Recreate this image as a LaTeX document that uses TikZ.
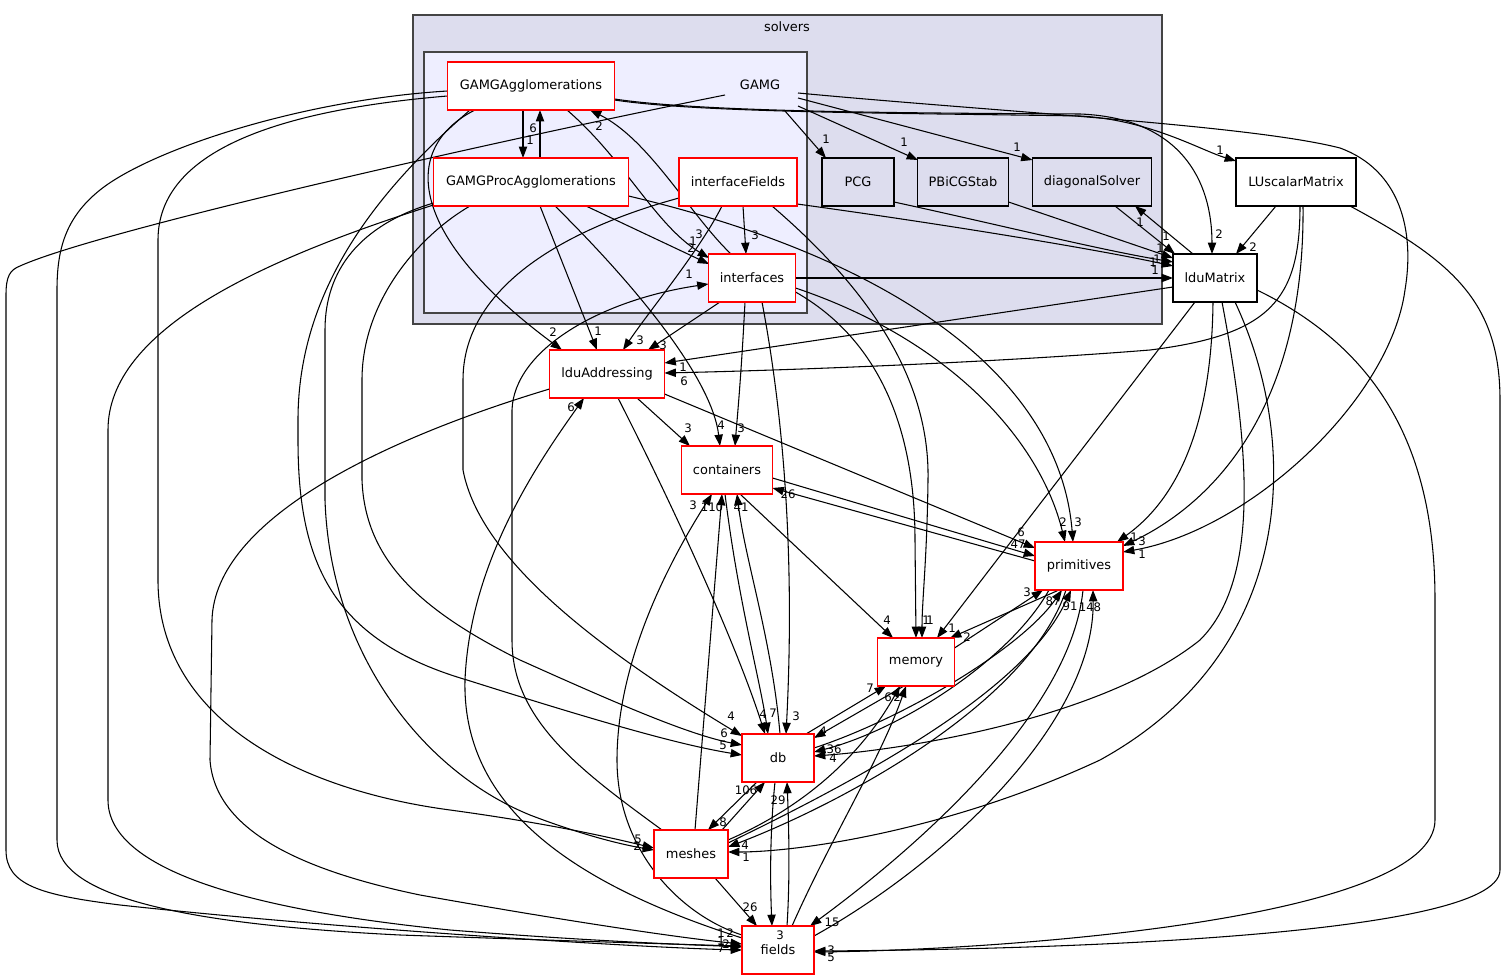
\documentclass[tikz,border=0pt]{standalone}
\usepackage{fontspec}
\setmainfont{DejaVu Sans}
\usetikzlibrary{arrows.meta}
\definecolor{solv}{HTML}{DDDDEE}
\definecolor{gamgc}{HTML}{EEEEFF}
\definecolor{clb}{HTML}{444444}
\newcommand\dxnf{\fontsize{9.7}{11}\selectfont}
\newcommand\dxlf{\fontsize{8.8}{10}\selectfont}
\pgfdeclarelayer{bgl}
\pgfdeclarelayer{edl}
\pgfsetlayers{bgl,edl,main}
\tikzset{
 nd/.style={draw=red, fill=white, line width=0.9pt, minimum height=36pt, inner sep=0pt, font=\dxnf},
 ndb/.style={nd, draw=black},
 ndg/.style={nd, draw=black, fill=solv},
 e/.style={line width=0.8pt, -{Triangle[length=8.5pt,width=6.2pt]}},
 lb/.style={font=\dxlf, inner sep=0pt},
}
\begin{document}
\begin{tikzpicture}[x=0.75pt,y=-0.75pt]
\useasboundingbox (0,0) rectangle (1504,980);
\begin{pgfonlayer}{bgl}
\fill[white] (0,0) rectangle (1504,980);
\draw[clb, fill=solv, line width=1pt] (413,15) rectangle (1162,324);
\draw[clb, fill=gamgc, line width=1pt] (424,52) rectangle (807,313);
\end{pgfonlayer}
% nodes
\node[font=\dxnf] (solvers) at (787,27) {solvers};
\node[font=\dxnf] (gamg) at (760,85) {GAMG};
\node[nd, minimum width=125.25pt] (GA) at (531,86) {GAMGAgglomerations};
\node[nd, minimum width=146.25pt] (GPA) at (531,182) {GAMGProcAgglomerations};
\node[nd, minimum width=88.5pt] (IF) at (738,182) {interfaceFields};
\node[nd, minimum width=65.25pt] (IFC) at (752,278) {interfaces};
\node[ndg, minimum width=54pt] (PCG) at (858,182) {PCG};
\node[ndg, minimum width=68.25pt] (PBi) at (963,182) {PBiCGStab};
\node[ndg, minimum width=89.25pt] (DS) at (1092,182) {diagonalSolver};
\node[ndb, minimum width=90pt] (LUs) at (1296,182) {LUscalarMatrix};
\node[ndb, minimum width=63pt] (ldM) at (1215,278) {lduMatrix};
\node[nd, minimum width=86.25pt] (ldA) at (607,374) {lduAddressing};
\node[nd, minimum width=68.25pt] (cont) at (727,470) {containers};
\node[nd, minimum width=66pt] (prim) at (1079,566) {primitives};
\node[nd, minimum width=57.75pt] (mem) at (916,662) {memory};
\node[nd, minimum width=54pt] (db) at (778,758) {db};
\node[nd, minimum width=55.5pt] (mesh) at (691,854) {meshes};
\node[nd, minimum width=54pt] (fld) at (778,950) {fields};
% edges
\begin{pgfonlayer}{edl}
\draw[e] ([shift={(-8,24)}]GA.center) -- ([shift={(-8,-24)}]GPA.center);
\draw[e] ([shift={(9,-24)}]GPA.center) -- ([shift={(9,24)}]GA.center);
\draw[e] ([shift={(36,24)}]GA.center) .. controls (625,160) and (655,225) .. ([shift={(-43,-20)}]IFC.center);
\draw[e] ([shift={(-21,-24)}]IFC.center) .. controls (690,215) and (650,140) .. ([shift={(59,24)}]GA.center);
\draw[e] ([shift={(55,24)}]GPA.center) -- ([shift={(-43,-14)}]IFC.center);
\draw[e] ([shift={(83.5,13)}]GA.center) .. controls (700,112) and (900,113) .. (1080,114) .. controls (1180,118) and (1212,180) .. ([shift={(-3,-24)}]ldM.center);
\draw[e] ([shift={(83.5,14)}]GA.center) .. controls (700,113) and (900,113) .. (1080,116) .. controls (1150,120) and (1200,150) .. ([shift={(-60,-21)}]LUs.center);
\draw[e] ([shift={(-56,24)}]GA.center) .. controls (405,145) and (400,230) .. ([shift={(-45,-24)}]ldA.center);
\draw[e] ([shift={(-61,24)}]GA.center) .. controls (390,180) and (298,280) .. (298,420) -- (298,440) .. controls (298,560) and (330,640) .. (467,680) .. controls (600,722) and (680,745) .. ([shift={(-36,-3)}]db.center);
\draw[e] ([shift={(-83.5,10)}]GA.center) .. controls (280,110) and (158,150) .. (158,240) -- (158,580) .. controls (158,720) and (300,790) .. (450,810) .. controls (560,825) and (620,840) .. ([shift={(-37,-6)}]mesh.center);
\draw[e] ([shift={(-83.5,5)}]GA.center) .. controls (300,100) and (150,150) .. (100,190) .. controls (65,218) and (57,250) .. (57,290) -- (57,840) .. controls (57,900) and (200,925) .. (400,935) .. controls (600,942) and (700,945) .. ([shift={(-36,-4)}]fld.center);
\draw[e] ([shift={(-35,10)}]gamg.center) .. controls (500,140) and (100,230) .. (20,266) .. controls (10,270) and (6,276) .. (6,295) -- (6,850) .. controls (6,885) and (40,895) .. (120,905) .. controls (350,930) and (650,948) .. ([shift={(-36,0)}]fld.center);
\draw[e] ([shift={(25,26)}]gamg.center) -- ([shift={(-32,-24)}]PCG.center);
\draw[e] ([shift={(38,21)}]gamg.center) -- ([shift={(-45,-22)}]PBi.center);
\draw[e] ([shift={(38,13)}]gamg.center) -- ([shift={(-59.5,-22)}]DS.center);
\draw[e] ([shift={(38,8)}]gamg.center) .. controls (1000,112) and (1250,125) .. (1340,148) .. controls (1400,170) and (1415,230) .. (1405,290) .. controls (1390,400) and (1250,530) .. ([shift={(44,-14)}]prim.center);
\draw[e] ([shift={(9,24)}]GPA.center) -- ([shift={(-10,-24)}]ldA.center);
\draw[e] ([shift={(24,24)}]GPA.center) .. controls (640,290) and (712,380) .. ([shift={(-7,-24)}]cont.center);
\draw[e] ([shift={(97.5,14)}]GPA.center) .. controls (900,260) and (1060,380) .. ([shift={(-6,-24)}]prim.center);
\draw[e] ([shift={(-61,24)}]GPA.center) .. controls (420,235) and (362,300) .. (362,380) -- (362,480) .. controls (365,560) and (420,610) .. (520,660) .. controls (620,705) and (690,735) .. ([shift={(-36,-13)}]db.center);
\draw[e] ([shift={(-97.5,21)}]GPA.center) .. controls (360,225) and (325,270) .. (325,330) -- (325,500) .. controls (330,650) and (420,770) .. (530,815) .. controls (590,838) and (630,846) .. ([shift={(-37,-4)}]mesh.center);
\draw[e] ([shift={(-97.5,23)}]GPA.center) .. controls (260,260) and (108,330) .. (108,430) -- (108,800) .. controls (108,870) and (250,910) .. (450,930) .. controls (600,942) and (700,945) .. ([shift={(-36,-3)}]fld.center);
\draw[e] ([shift={(5,24)}]IF.center) -- ([shift={(-6,-24)}]IFC.center);
\draw[e] ([shift={(-16,24)}]IF.center) .. controls (700,250) and (650,310) .. ([shift={(16,-24)}]ldA.center);
\draw[e] ([shift={(-59,16)}]IF.center) .. controls (580,225) and (463,280) .. (463,380) -- (463,470) .. controls (480,560) and (600,650) .. ([shift={(-36,-22)}]db.center);
\draw[e] ([shift={(34,24)}]IF.center) .. controls (870,290) and (930,380) .. (928,480) .. controls (927,560) and (922,600) .. ([shift={(6,-24)}]mem.center);
\draw[e] ([shift={(59,22)}]IF.center) .. controls (950,225) and (1100,250) .. ([shift={(-42,-12)}]ldM.center);
\draw[e] ([shift={(43.5,0)}]IFC.center) -- ([shift={(-42,0)}]ldM.center);
\draw[e] ([shift={(-32,24)}]IFC.center) -- ([shift={(41,-24)}]ldA.center);
\draw[e] ([shift={(-7,24)}]IFC.center) .. controls (741,380) and (737,420) .. ([shift={(8,-24)}]cont.center);
\draw[e] ([shift={(10,24)}]IFC.center) .. controls (790,450) and (793,600) .. ([shift={(8,-24)}]db.center);
\draw[e] ([shift={(43.5,14)}]IFC.center) .. controls (880,340) and (915,430) .. (915,540) -- ([shift={(0,-24)}]mem.center);
\draw[e] ([shift={(43.5,10)}]IFC.center) .. controls (950,340) and (1040,440) .. ([shift={(-14,-24)}]prim.center);
\draw[e] ([shift={(-29,-24)}]mesh.center) .. controls (580,770) and (512,720) .. (512,640) -- (512,410) .. controls (514,350) and (600,300) .. ([shift={(-43.5,6)}]IFC.center);
\draw[e] ([shift={(30,24)}]ldA.center) -- ([shift={(-37,-24)}]cont.center);
\draw[e] ([shift={(57.5,20)}]ldA.center) -- ([shift={(-44,-18)}]prim.center);
\draw[e] ([shift={(11,24)}]ldA.center) .. controls (670,500) and (735,640) .. ([shift={(-13,-24)}]db.center);
\draw[e] ([shift={(-57.5,15)}]ldA.center) .. controls (380,440) and (215,520) .. (212,620) -- (210,760) .. controls (215,830) and (300,870) .. (420,895) .. controls (560,920) and (680,938) .. ([shift={(-36,-6)}]fld.center);
\draw[e] ([shift={(-36,-12)}]fld.center) .. controls (560,880) and (462,800) .. (465,680) .. controls (470,560) and (540,460) .. ([shift={(-23,24)}]ldA.center);
\draw[e] ([shift={(-36,-15)}]fld.center) .. controls (680,915) and (617,850) .. (617,760) .. controls (617,660) and (670,560) .. ([shift={(-15,24)}]cont.center);
\draw[e] ([shift={(13,24)}]cont.center) -- ([shift={(-23,-24)}]mem.center);
\draw[e] ([shift={(45.5,8)}]cont.center) -- ([shift={(-44,-10)}]prim.center);
\draw[e] ([shift={(-44,-5)}]prim.center) -- ([shift={(45.5,18)}]cont.center);
\draw[e] ([shift={(-2,24)}]cont.center) .. controls (738,600) and (760,680) .. ([shift={(-10,-24)}]db.center);
\draw[e] ([shift={(2,-24)}]db.center) .. controls (772,640) and (745,560) .. ([shift={(10,24)}]cont.center);
\draw[e] ([shift={(38.5,-14)}]mem.center) -- ([shift={(-36,24)}]prim.center);
\draw[e] ([shift={(-20,24)}]prim.center) -- ([shift={(34,-24)}]mem.center);
\draw[e] ([shift={(-12,24)}]mem.center) -- ([shift={(36,-20)}]db.center);
\draw[e] ([shift={(28,-24)}]db.center) -- ([shift={(-30,24)}]mem.center);
\draw[e] ([shift={(36,-10)}]db.center) .. controls (900,720) and (1020,650) .. ([shift={(-17,24)}]prim.center);
\draw[e] ([shift={(-30,24)}]prim.center) .. controls (1010,660) and (900,730) .. ([shift={(36,-6)}]db.center);
\draw[e] ([shift={(-21,24)}]db.center) -- ([shift={(17,-24)}]mesh.center);
\draw[e] ([shift={(31,-24)}]mesh.center) -- ([shift={(-13,24)}]db.center);
\draw[e] ([shift={(-3,24)}]db.center) .. controls (770,830) and (770,880) .. ([shift={(-6,-24)}]fld.center);
\draw[e] ([shift={(9,-24)}]fld.center) .. controls (790,880) and (789,830) .. ([shift={(9,24)}]db.center);
\draw[e] ([shift={(4,-24)}]mesh.center) -- ([shift={(-5,24)}]cont.center);
\draw[e] ([shift={(37,-14)}]mesh.center) .. controls (820,800) and (870,740) .. ([shift={(-16,24)}]mem.center);
\draw[e] ([shift={(14,-24)}]fld.center) .. controls (830,840) and (880,760) .. ([shift={(-10,24)}]mem.center);
\draw[e] ([shift={(24,24)}]mesh.center) -- ([shift={(-21,-24)}]fld.center);
\draw[e] ([shift={(37,-11)}]mesh.center) .. controls (900,760) and (1030,680) .. ([shift={(-8,24)}]prim.center);
\draw[e] ([shift={(-13,24)}]prim.center) .. controls (1030,700) and (850,800) .. ([shift={(37,-7)}]mesh.center);
\draw[e] ([shift={(20,24)}]ldM.center) .. controls (1300,440) and (1300,650) .. (1100,760) .. controls (950,830) and (800,852) .. ([shift={(37,-2)}]mesh.center);
\draw[e] ([shift={(36,-14)}]fld.center) .. controls (950,860) and (1095,720) .. ([shift={(14,24)}]prim.center);
\draw[e] ([shift={(4,24)}]prim.center) .. controls (1070,720) and (900,860) .. ([shift={(32,-24)}]fld.center);
\draw[e] ([shift={(-22,-24)}]ldM.center) -- ([shift={(43,24)}]DS.center);
\draw[e] ([shift={(23,24)}]DS.center) -- ([shift={(-40,-24)}]ldM.center);
\draw[e] ([shift={(36,20)}]PCG.center) .. controls (1000,225) and (1100,250) .. ([shift={(-42,-16)}]ldM.center);
\draw[e] ([shift={(45.5,20)}]PBi.center) -- ([shift={(-42,-20)}]ldM.center);
\draw[e] ([shift={(-42,9)}]ldM.center) -- ([shift={(57.5,-11)}]ldA.center);
\draw[e] ([shift={(4,24)}]LUs.center) .. controls (1300,300) and (1270,335) .. (1150,350) .. controls (1000,362) and (800,370) .. ([shift={(57.5,-1)}]ldA.center);
\draw[e] ([shift={(-20,24)}]ldM.center) -- ([shift={(21,-24)}]mem.center);
\draw[e] ([shift={(-2,24)}]ldM.center) .. controls (1212,400) and (1190,490) .. ([shift={(38,-24)}]prim.center);
\draw[e] ([shift={(7,24)}]LUs.center) .. controls (1305,400) and (1220,500) .. ([shift={(44,-20)}]prim.center);
\draw[e] ([shift={(7,24)}]ldM.center) .. controls (1250,450) and (1260,580) .. (1200,640) .. controls (1100,720) and (900,750) .. ([shift={(36,-2)}]db.center);
\draw[e] ([shift={(42,12)}]ldM.center) .. controls (1380,350) and (1435,450) .. (1435,600) -- (1435,820) .. controls (1435,920) and (1000,950) .. ([shift={(36,2)}]fld.center);
\draw[e] ([shift={(54,24)}]LUs.center) .. controls (1450,260) and (1500,300) .. (1500,400) -- (1500,870) .. controls (1500,940) and (1000,950) .. ([shift={(36,1)}]fld.center);
\draw[e] ([shift={(-20,24)}]LUs.center) -- ([shift={(21,-24)}]ldM.center);
\end{pgfonlayer}
% labels
\node[lb] (l1) at (530,140) {1};
\node[lb] (l2) at (533,128) {6};
\node[lb] (l3) at (699,234) {3};
\node[lb] (l4) at (599,126) {2};
\node[lb] (l5) at (693,241) {1};
\node[lb] (l5b) at (691,248) {2};
\node[lb] (l6) at (1219,234) {2};
\node[lb] (l7) at (1220,150) {1};
\node[lb] (l8) at (553,332) {2};
\node[lb] (l9) at (723,745) {5};
\node[lb] (l10) at (638,839) {5};
\node[lb] (l11) at (721,941) {1};
\node[lb] (l12) at (721,933) {1};
\node[lb] (l13) at (826,139) {1};
\node[lb] (l14) at (904,142) {1};
\node[lb] (l15) at (1017,147) {1};
\node[lb] (l16) at (1142,554) {1};
\node[lb] (l17) at (598,331) {1};
\node[lb] (l18) at (721,425) {4};
\node[lb] (l19) at (1078,522) {3};
\node[lb] (l20) at (724,733) {6};
\node[lb] (l21) at (637,846) {2};
\node[lb] (l22) at (726,944) {2};
\node[lb] (l23) at (755,235) {3};
\node[lb] (l24) at (640,340) {3};
\node[lb] (l25) at (731,716) {4};
\node[lb] (l26) at (930,620) {1};
\node[lb] (l27) at (1157,259) {1};
\node[lb] (l28) at (1155,270) {1};
\node[lb] (l29) at (663,345) {3};
\node[lb] (l30) at (741,428) {3};
\node[lb] (l31) at (796,716) {3};
\node[lb] (l32) at (926,620) {1};
\node[lb] (l33) at (1063,522) {2};
\node[lb] (l34) at (689,274) {1};
\node[lb] (l35) at (688,428) {3};
\node[lb] (l36) at (1021,532) {6};
\node[lb] (l37) at (763,714) {4};
\node[lb] (l38) at (721,948) {7};
\node[lb] (l39) at (571,407) {6};
\node[lb] (l40) at (693,505) {3};
\node[lb] (l40b) at (730,933) {2};
\node[lb] (l41) at (887,620) {4};
\node[lb] (l42) at (1018,544) {47};
\node[lb] (l43) at (788,494) {26};
\node[lb] (l44) at (773,713) {7};
\node[lb] (l45) at (741,507) {41};
\node[lb] (l46) at (1027,592) {3};
\node[lb] (l47) at (967,637) {2};
\node[lb] (l48) at (823,731) {4};
\node[lb] (l49) at (870,688) {7};
\node[lb] (l50) at (1053,601) {87};
\node[lb] (l51) at (834,749) {36};
\node[lb] (l52) at (723,822) {8};
\node[lb] (l53) at (746,790) {106};
\node[lb] (l54) at (780,935) {3};
\node[lb] (l55) at (778,800) {29};
\node[lb] (l56) at (712,507) {110};
\node[lb] (l57) at (888,697) {6};
\node[lb] (l58) at (897,697) {2};
\node[lb] (l59) at (750,907) {26};
\node[lb] (l60) at (1070,606) {91};
\node[lb] (l61) at (745,845) {4};
\node[lb] (l62) at (746,857) {1};
\node[lb] (l63) at (1090,607) {148};
\node[lb] (l64) at (832,922) {15};
\node[lb] (l65) at (1166,236) {1};
\node[lb] (l66) at (1140,222) {1};
\node[lb] (l67) at (1153,262) {1};
\node[lb] (l68) at (1160,248) {1};
\node[lb] (l69) at (683,367) {1};
\node[lb] (l70) at (684,381) {6};
\node[lb] (l71) at (952,628) {1};
\node[lb] (l72) at (1134,537) {1};
\node[lb] (l73) at (1142,541) {3};
\node[lb] (l74) at (833,758) {4};
\node[lb] (l75) at (831,957) {5};
\node[lb] (l76) at (831,950) {3};
\node[lb] (l77) at (1253,247) {2};
\end{tikzpicture}
\end{document}
